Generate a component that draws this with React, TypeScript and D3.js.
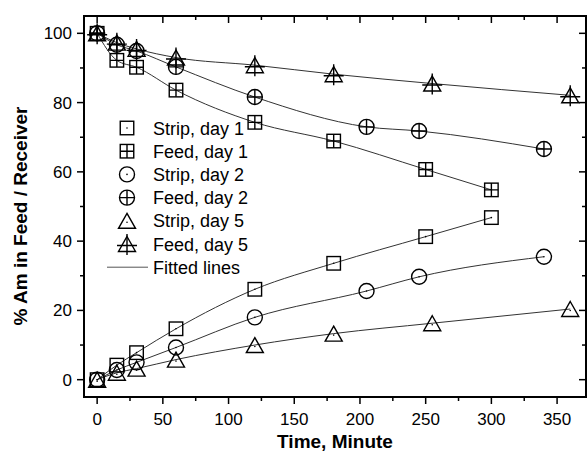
import React from "react";
import * as d3 from "d3";

const time1 = [0, 15, 30, 60, 120, 180, 250, 300];
const strip1 = [0, 4.2, 7.8, 14.7, 26.1, 33.6, 41.3, 46.8];
const feed1 = [100, 92.2, 90.2, 83.6, 74.3, 68.9, 60.7, 54.8];

const time2 = [0, 15, 30, 60, 120, 205, 245, 340];
const strip2 = [0, 2.8, 5, 9.3, 18, 25.6, 29.7, 35.5];
const feed2 = [100, 96.7, 94.9, 90.3, 81.6, 73, 71.8, 66.6];

const time5 = [0, 15, 30, 60, 120, 180, 255, 360];
const strip5 = [0, 2, 3.2, 5.8, 10, 13.3, 16.3, 20.4];
const feed5 = [100, 97.3, 95.5, 93, 90.8, 88.2, 85.5, 82.1];

const xTicks = [0, 50, 100, 150, 200, 250, 300, 350];
const yTicks = [0, 20, 40, 60, 80, 100];

type Kind = "square" | "circle" | "triangle";
type Mark = "dot" | "plus";

const seriesList: { name: string; t: number[]; v: number[]; kind: Kind; mark: Mark }[] = [
  { name: "Strip, day 1", t: time1, v: strip1, kind: "square", mark: "dot" },
  { name: "Feed, day 1", t: time1, v: feed1, kind: "square", mark: "plus" },
  { name: "Strip, day 2", t: time2, v: strip2, kind: "circle", mark: "dot" },
  { name: "Feed, day 2", t: time2, v: feed2, kind: "circle", mark: "plus" },
  { name: "Strip, day 5", t: time5, v: strip5, kind: "triangle", mark: "dot" },
  { name: "Feed, day 5", t: time5, v: feed5, kind: "triangle", mark: "plus" },
];

const L = 84, R = 586, T = 16, B = 397;

function Marker({ cx, cy, kind, mark }: { cx: number; cy: number; kind: Kind; mark: Mark }) {
  const st = { fill: "none", stroke: "#000", strokeWidth: 1.4 } as const;
  if (kind === "square") {
    const s = 13.5, h = s / 2;
    return (
      <g>
        <rect x={cx - h} y={cy - h} width={s} height={s} {...st} />
        {mark === "plus" ? (
          <path d={`M${cx - h},${cy}H${cx + h}M${cx},${cy - h}V${cy + h}`} {...st} />
        ) : (
          <circle cx={cx} cy={cy} r={0.8} fill="#000" />
        )}
      </g>
    );
  }
  if (kind === "circle") {
    const r = 7.5;
    return (
      <g>
        <circle cx={cx} cy={cy} r={r} {...st} />
        {mark === "plus" ? (
          <path d={`M${cx - r},${cy}H${cx + r}M${cx},${cy - r}V${cy + r}`} {...st} />
        ) : (
          <circle cx={cx} cy={cy} r={0.8} fill="#000" />
        )}
      </g>
    );
  }
  const w = 17, hh = 15;
  return (
    <g>
      <path d={`M${cx},${cy - hh / 2}L${cx + w / 2},${cy + hh / 2}L${cx - w / 2},${cy + hh / 2}Z`} {...st} />
      {mark === "plus" ? (
        <path d={`M${cx - 10},${cy + 1.5}H${cx + 10}M${cx},${cy - 10}V${cy + 11}`} {...st} />
      ) : (
        <circle cx={cx} cy={cy + 1.5} r={0.8} fill="#000" />
      )}
    </g>
  );
}

export default function App() {
  const x = d3.scaleLinear().domain([-10, 372]).range([L, R]);
  const y = d3.scaleLinear().domain([-5, 105]).range([B, T]);
  const xMinor = d3.range(25, 375, 50);
  const yMinor = d3.range(10, 101, 20);

  const line = d3
    .line<[number, number]>()
    .x((d) => x(d[0]))
    .y((d) => y(d[1]))
    .curve(d3.curveMonotoneX);

  const font = "'Liberation Sans', Arial, sans-serif";
  const legendY0 = 128;
  const legendStep = 23.2;

  return (
    <svg width={587} height={460} style={{ position: "absolute", left: 0, top: 0, background: "#fff" }} fontFamily={font}>
      <defs>
        <clipPath id="plot">
          <rect x={L} y={T} width={R - L} height={B - T} />
        </clipPath>
      </defs>
      {/* fitted lines */}
      <g clipPath="url(#plot)">
        {seriesList.map((s) => (
          <path
            key={s.name + "l"}
            d={line(s.t.map((t, i) => [t, s.v[i]] as [number, number])) || ""}
            fill="none"
            stroke="#333"
            strokeWidth={1}
          />
        ))}
        {seriesList.map((s) =>
          s.t.map((t, i) => (
            <Marker key={s.name + i} cx={x(t)} cy={y(s.v[i])} kind={s.kind} mark={s.mark} />
          ))
        )}
      </g>
      {/* frame */}
      <rect x={L} y={T} width={R - L} height={B - T} fill="none" stroke="#000" strokeWidth={2} />
      {/* bottom ticks outward, top inward */}
      {xTicks.map((t) => (
        <g key={"xt" + t}>
          <line x1={x(t)} x2={x(t)} y1={B} y2={B + 7} stroke="#000" strokeWidth={1.5} />
          <line x1={x(t)} x2={x(t)} y1={T} y2={T + 7} stroke="#000" strokeWidth={1.5} />
          <text x={x(t)} y={B + 28} fontSize={17} textAnchor="middle" fill="#000">
            {t}
          </text>
        </g>
      ))}
      {xMinor.map((t) => (
        <g key={"xm" + t}>
          <line x1={x(t)} x2={x(t)} y1={B} y2={B + 4} stroke="#000" strokeWidth={1.5} />
          <line x1={x(t)} x2={x(t)} y1={T} y2={T + 4} stroke="#000" strokeWidth={1.5} />
        </g>
      ))}
      {yTicks.map((v) => (
        <g key={"yt" + v}>
          <line x1={L - 7} x2={L} y1={y(v)} y2={y(v)} stroke="#000" strokeWidth={1.5} />
          <line x1={R - 7} x2={R} y1={y(v)} y2={y(v)} stroke="#000" strokeWidth={1.5} />
          <text x={L - 12} y={y(v) + 6} fontSize={17} textAnchor="end" fill="#000">
            {v}
          </text>
        </g>
      ))}
      {yMinor.map((v) => (
        <g key={"ym" + v}>
          <line x1={L - 4} x2={L} y1={y(v)} y2={y(v)} stroke="#000" strokeWidth={1.5} />
          <line x1={R - 4} x2={R} y1={y(v)} y2={y(v)} stroke="#000" strokeWidth={1.5} />
        </g>
      ))}
      {/* axis titles */}
      <text x={335} y={448} fontSize={19} fontWeight="bold" textAnchor="middle" fill="#000">
        Time, Minute
      </text>
      <text
        transform={`translate(27,216) rotate(-90)`}
        fontSize={19}
        fontWeight="bold"
        textAnchor="middle"
        fill="#000"
      >
        % Am in Feed / Receiver
      </text>
      {/* legend */}
      {seriesList.map((s, i) => (
        <g key={"lg" + i}>
          <Marker cx={127} cy={legendY0 + i * legendStep} kind={s.kind} mark={s.mark} />
          <text x={153} y={legendY0 + i * legendStep + 6.5} fontSize={18} fill="#000">
            {s.name}
          </text>
        </g>
      ))}
      <line
        x1={107}
        x2={148}
        y1={legendY0 + 6 * legendStep}
        y2={legendY0 + 6 * legendStep}
        stroke="#555"
        strokeWidth={1}
      />
      <text x={153} y={legendY0 + 6 * legendStep + 6.5} fontSize={18} fill="#000">
        Fitted lines
      </text>
    </svg>
  );
}
